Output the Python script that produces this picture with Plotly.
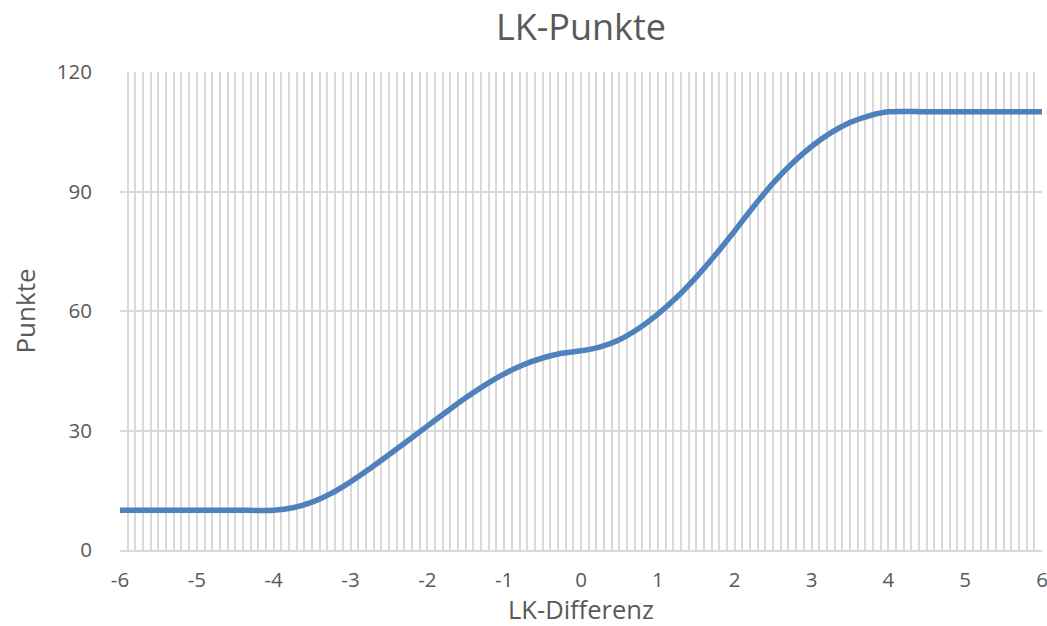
import plotly.graph_objects as go

# Data
lk_diff = [-6, -5.5, -5, -4.5, -4, -3.75, -3.5, -3.25, -3, -2.75, -2.5, -2.25, -2,
           -1.75, -1.5, -1.25, -1, -0.75, -0.5, -0.25, 0, 0.25, 0.5, 0.75, 1,
           1.25, 1.5, 1.75, 2, 2.25, 2.5, 2.75, 3, 3.25, 3.5, 3.75, 4,
           4.5, 5, 5.5, 6]
punkte = [10, 10, 10, 10, 10, 10.6, 12, 14.2, 17.1, 20.4, 23.9, 27.5, 31.1,
          34.7, 38.2, 41.4, 44.2, 46.5, 48.2, 49.4, 50, 51, 52.8, 55.6, 59.2,
          63.5, 68.5, 74.1, 80.1, 86.3, 92.1, 97.1, 101.3, 104.7, 107.3, 109, 110,
          110, 110, 110, 110]

x_ticks = [-6, -5, -4, -3, -2, -1, 0, 1, 2, 3, 4, 5, 6]
y_ticks = [0, 30, 60, 90, 120]

FONT = "Open Sans"
TXT = "#595959"
GRID = "#d9d9d9"

fig = go.Figure()
fig.add_trace(go.Scatter(
    x=lk_diff, y=punkte, mode="lines",
    line=dict(color="#4f81bd", width=5.5, shape="spline", smoothing=1.0),
    showlegend=False, hoverinfo="x+y",
))

fig.update_layout(
    width=1047, height=626,
    paper_bgcolor="white", plot_bgcolor="white",
    margin=dict(l=120, r=5, t=72, b=76, autoexpand=False),
    title=dict(text="LK-Punkte", x=0.5, xref="paper", xanchor="center",
               y=0.956, yanchor="middle",
               font=dict(family=FONT, size=36, color=TXT)),
    font=dict(family=FONT, color=TXT),
)
fig.update_xaxes(
    range=[-6, 6], tickvals=x_ticks, ticktext=[str(v) for v in x_ticks],
    showgrid=True, gridcolor=GRID, gridwidth=2,
    minor=dict(dtick=0.1, tick0=-6, showgrid=True, gridcolor=GRID, gridwidth=2),
    zeroline=False, showline=True, linecolor=GRID, linewidth=2,
    ticks="", automargin=False, ticklabelstandoff=10, ticklabeloverflow="allow",
    tickfont=dict(family=FONT, size=20.5, color=TXT),
    title=dict(text="LK-Differenz", font=dict(family=FONT, size=25.5, color=TXT), standoff=11),
)
fig.update_yaxes(
    range=[0, 120], tickvals=y_ticks, ticktext=[str(v) for v in y_ticks],
    showgrid=True, gridcolor=GRID, gridwidth=2,
    zeroline=False, showline=False, ticks="", automargin=False,
    ticklabeloverflow="allow",
    tickfont=dict(family=FONT, size=20.5, color=TXT), ticklabelstandoff=27,
    title=dict(text="Punkte", font=dict(family=FONT, size=26, color=TXT), standoff=13),
)

fig.write_html(
    "out.html",
    config={"displayModeBar": False},
    post_script="document.body.style.margin='0';document.body.style.overflow='hidden';",
)
